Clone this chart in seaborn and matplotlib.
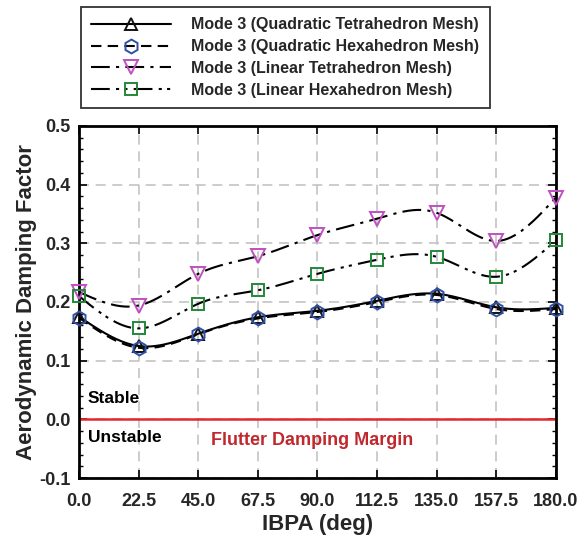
import numpy as np
import pandas as pd
import matplotlib
matplotlib.use("Agg")
import matplotlib.pyplot as plt
from matplotlib.lines import Line2D
import seaborn as sns

# Inter-blade phase angle (deg)
ibpa = [0.0, 22.5, 45.0, 67.5, 90.0, 112.5, 135.0, 157.5, 180.0]

# Aerodynamic damping factor, mode 3, per mesh type
quad_tet = [0.175, 0.125, 0.146, 0.174, 0.185, 0.202, 0.214, 0.191, 0.190]
quad_hex = [0.173, 0.122, 0.145, 0.172, 0.183, 0.200, 0.212, 0.188, 0.188]
lin_tet = [0.217, 0.194, 0.248, 0.278, 0.314, 0.342, 0.352, 0.304, 0.378]
lin_hex = [0.210, 0.155, 0.197, 0.220, 0.248, 0.272, 0.277, 0.243, 0.305]

labels = [
    "Mode 3 (Quadratic Tetrahedron Mesh)",
    "Mode 3 (Quadratic Hexahedron Mesh)",
    "Mode 3 (Linear Tetrahedron Mesh)",
    "Mode 3 (Linear Hexahedron Mesh)",
]
x_ticks = ["0.0", "22.5", "45.0", "67.5", "90.0", "112.5", "135.0", "157.5", "180.0"]


def natural_spline(x, y, n=400):
    """Smooth connecting curve through the points (natural cubic spline)."""
    x = np.asarray(x, float)
    y = np.asarray(y, float)
    m = len(x)
    h = np.diff(x)
    A = np.zeros((m, m))
    r = np.zeros(m)
    A[0, 0] = A[-1, -1] = 1.0
    for i in range(1, m - 1):
        A[i, i - 1] = h[i - 1]
        A[i, i] = 2 * (h[i - 1] + h[i])
        A[i, i + 1] = h[i]
        r[i] = 6 * ((y[i + 1] - y[i]) / h[i] - (y[i] - y[i - 1]) / h[i - 1])
    M = np.linalg.solve(A, r)
    xs = np.linspace(x[0], x[-1], n)
    idx = np.clip(np.searchsorted(x, xs) - 1, 0, m - 2)
    x0, x1 = x[idx], x[idx + 1]
    hh = x1 - x0
    a = (x1 - xs) / hh
    b = (xs - x0) / hh
    ys = (a * y[idx] + b * y[idx + 1]
          + ((a ** 3 - a) * M[idx] + (b ** 3 - b) * M[idx + 1]) * hh ** 2 / 6)
    return xs, ys


sns.set_theme(style="white")
plt.rcParams["font.family"] = ["Liberation Sans", "DejaVu Sans"]
plt.rcParams["font.weight"] = "bold"

fig = plt.figure(figsize=(5.87, 5.40), dpi=100)
ax = fig.add_axes([0.1346, 0.1148, 0.8124, 0.6519])

series = [quad_tet, quad_hex, lin_tet, lin_hex]
markers = ["^", "h", "v", "s"]
mcolors = ["#111111", "#2f4fa8", "#c050c0", "#22883a"]
dashes = [(None, None), (5, 3), (9, 3, 1.5, 3), (9, 3, 1.5, 2.5, 1.5, 3)]
msizes = [9, 10, 10, 9]

handles = []
for vals, mk, mc, ds, ms, lab in zip(series, markers, mcolors, dashes, msizes, labels):
    xs, ys = natural_spline(ibpa, vals)
    line_df = pd.DataFrame({"x": xs, "y": ys})
    sns.lineplot(data=line_df, x="x", y="y", ax=ax, color="black",
                 linewidth=1.5, zorder=3)
    ln = ax.lines[-1]
    if ds[0] is not None:
        ln.set_dashes(ds)
    pt_df = pd.DataFrame({"x": ibpa, "y": vals})
    ax.plot(pt_df["x"], pt_df["y"], linestyle="none", marker=mk, markersize=ms,
            markerfacecolor="none", markeredgecolor=mc, markeredgewidth=1.4,
            zorder=4, clip_on=False)
    h = Line2D([], [], color="black", linewidth=1.5, marker=mk, markersize=ms,
               markerfacecolor="none", markeredgecolor=mc, markeredgewidth=1.4)
    if ds[0] is not None:
        h.set_dashes(ds)
    handles.append(h)

# Stability boundary
ax.axhline(0.0, color="#e8262c", linewidth=1.8, zorder=2)
ax.text(3.4, 0.036, "Stable", fontsize=12.5, fontweight="bold", va="center",
        ha="left", color="black")
ax.text(3.4, -0.031, "Unstable", fontsize=12.5, fontweight="bold", va="center",
        ha="left", color="black")
ax.text(49.8, -0.036, "Flutter Damping Margin", fontsize=13, fontweight="bold",
        va="center", ha="left", color="#c0282e")

ax.set_xlim(0, 180)
ax.set_ylim(-0.1, 0.5)
ax.set_xticks(ibpa)
ax.set_xticklabels(x_ticks)
ax.set_yticks([-0.1, 0.0, 0.1, 0.2, 0.3, 0.4, 0.5])
ax.set_yticklabels(["-0.1", "0.0", "0.1", "0.2", "0.3", "0.4", "0.5"])
ax.set_yticks(np.arange(-0.1, 0.5001, 0.02), minor=True)
ax.tick_params(axis="both", which="major", direction="in", length=6, width=1.2,
               labelsize=13, top=True, right=True, bottom=True, left=True,
               color="black")
ax.tick_params(axis="x", which="major", pad=11)
ax.tick_params(axis="y", which="major", pad=6)
ax.tick_params(axis="y", which="minor", direction="in", length=3, width=1.0,
               left=True, right=True, color="black")
for lab in ax.get_xticklabels() + ax.get_yticklabels():
    lab.set_fontweight("bold")

ax.grid(True, which="major", color="#c4c4c4", linestyle=(0, (6, 4)), linewidth=1.2)
ax.set_axisbelow(True)
for sp in ax.spines.values():
    sp.set_visible(True)
    sp.set_color("black")
    sp.set_linewidth(2.0)

ax.set_xlabel("IBPA (deg)", fontsize=16, fontweight="bold", labelpad=3)
ax.set_ylabel("Aerodynamic Damping Factor", fontsize=16, fontweight="bold",
              labelpad=2)

leg = fig.legend(handles, labels, loc="upper left",
                 bbox_to_anchor=(0.138, 0.987), bbox_transform=fig.transFigure,
                 borderaxespad=0, frameon=True, fancybox=False, shadow=False,
                 numpoints=1, handlelength=5.0, handletextpad=1.25,
                 labelspacing=0.42, borderpad=0.65,
                 prop={"size": 11.5, "weight": "bold"})
leg.get_frame().set_edgecolor("black")
leg.get_frame().set_linewidth(1.3)

fig.savefig("out.png", dpi=100)
